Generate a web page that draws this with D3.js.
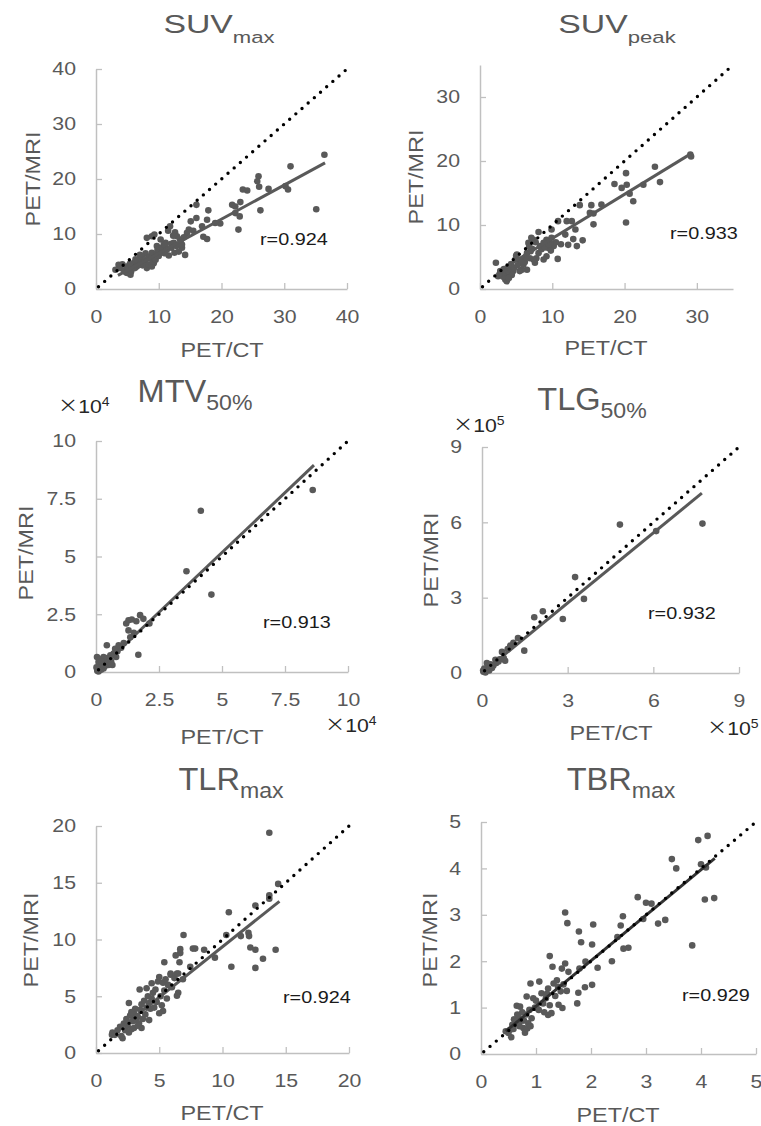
<!DOCTYPE html>
<html>
<head>
<meta charset="utf-8">
<script src="https://cdn.jsdelivr.net/npm/d3@7"></script>
<style>
body{margin:0;background:#fff;}
text{font-family:"Liberation Sans",Arial,sans-serif;}
</style>
</head>
<body>
<svg id="fig" width="761" height="1126"></svg>
<script>
// values: [PET/CT, PET/MRI]
let suvMax = [
 [36.4,24.4],[35.1,14.5],[31.0,22.3],[30.6,18.1],[30.2,18.7],[27.5,18.2],[25.9,20.5],[25.7,19.6],
 [26.0,18.6],[26.2,14.3],[23.4,18.1],[24.1,17.9],[22.7,10.8],[22.9,13.2],[22.2,15.0],[21.7,15.3],
 [23.0,15.8],[22.2,13.8],[19.8,11.9],[19.0,12.0],[17.9,14.3],[17.7,12.6],[17.7,9.1],[17.1,9.5],
 [16.9,11.4],[16.0,15.3],[16.0,12.9],[14.8,10.8],[15.1,12.3],[14.5,10.2],[13.7,7.5],[14.2,6.2],
 [13.4,9.0],[12.6,10.3],[11.8,11.4],[11.6,6.1],[12.0,7.5],[11.1,8.4],[10.3,9.0],[9.7,7.8],
 [8.9,9.6],[8.1,9.3],[7.9,6.5],[8.7,5.9],[9.2,4.7],[12.9,9.6],[13.5,8.4],[12.3,9.7],[11.5,10.6],
 [14.0,9.4],[15.5,10.6],[10.8,8.1],[10.5,7.0],[11.0,6.5],[12.5,6.6],
 [3.6,4.4],[3.9,3.8],[3.1,3.5],[4.2,4.5],[4.5,3.3],[4.8,3.0],[5.5,2.6],[5.2,3.6],[4.9,4.1],
 [5.0,2.9],[5.6,3.2],[5.8,4.0],[6.0,4.7],[6.2,3.8],[6.5,4.1],[6.7,4.9],[6.9,4.4],[7.1,5.3],
 [7.3,5.9],[7.4,4.3],[7.6,4.7],[7.8,5.1],[8.0,4.5],[8.1,3.8],[8.2,5.5],[8.4,4.4],[8.5,5.8],
 [8.9,4.1],[8.9,6.6],[9.0,5.0],[9.3,5.6],[9.5,5.3],[9.6,6.2],[9.7,6.5],[9.8,7.1],[10.0,6.0],
 [10.2,7.4],[10.5,7.5],[10.7,6.6],[11.0,7.9],[11.3,7.2],[12.0,8.2],[12.4,8.4],[12.8,7.8],
 [13.2,6.8],[13.7,8.1],[9.3,9.9],[7.0,6.2],[6.3,5.4],[5.4,4.6]
];
let suvPeak = [
 [29.1,21.0],[29.2,20.7],[24.2,19.1],[24.9,16.7],[22.6,16.3],[20.2,18.1],[20.3,16.3],[19.6,15.8],
 [18.6,16.4],[21.2,13.7],[20.7,14.9],[20.2,10.4],[16.8,13.2],[15.7,11.8],[15.2,11.9],[15.7,10.1],
 [15.4,13.1],[13.8,13.1],[13.2,9.3],[12.9,7.8],[14.2,7.6],[13.4,6.7],[12.2,6.9],[12.7,10.6],
 [12.0,10.6],[11.8,8.5],[10.8,10.6],[10.75,4.7],[9.9,9.3],[10.2,6.7],[9.5,6.4],[9.2,5.1],
 [8.8,4.6],[8.1,8.9],[7.4,7.7],[7.1,8.0],[6.7,7.2],[11.2,7.0],[10.5,7.3],
 [2.2,4.1],[3.5,1.5],[3.7,1.2],[2.5,2.0],[2.8,2.8],[5.1,5.4],[5.5,4.1],[6.5,5.6],[6.9,4.8],
 [7.6,4.1],[7.8,4.8],[6.5,3.0],[5.8,3.0],[4.6,2.8],[4.2,3.5],[4.9,4.6],[6.0,3.8],[5.5,2.8],
 [3.9,2.0],[4.4,2.2],[8.3,6.7],[9.2,7.7],[9.7,7.2],[9.9,8.0],[8.8,7.2],[7.4,4.6],[8.1,5.6],
 [3.0,2.4],[3.2,1.9],[3.4,2.6],[3.8,2.9],[4.0,1.7],[4.7,3.3],[5.2,3.7],[5.7,4.4],[6.2,4.2],
 [6.3,5.0],[7.0,5.9],[7.2,6.3],[8.5,6.2],[9.0,6.5],[9.5,7.0],[9.8,6.0],[4.3,3.9],[5.0,5.2],
 [6.8,6.6],[7.7,7.3],[2.7,2.3],[3.3,3.1]
];
let mtv = [
 [8.6,7.88],[4.16,6.98],[3.59,4.36],[4.58,3.35],[1.68,0.75],[1.75,2.46],[1.88,2.3],[2.12,2.1],
 [1.29,2.24],[1.42,2.27],[1.2,2.1],[1.29,1.8],[1.36,1.5],[0.43,1.16],[0.9,1.16],[0.76,1.0],
 [0.7,0.8],[0.5,0.3],[0.3,0.65],[0.04,0.65],[0.1,0.43],[0.57,0.72],[0.17,0.22],[0.05,0.05],
 [0.08,0.12],[0.12,0.3],[0.2,0.1],[0.25,0.35],[0.35,0.25],[0.4,0.5],[0.15,0.55],[0.6,0.45],
 [0.65,0.3],[0.3,0.15],[0.02,0.2],[0.1,0.02],[0.22,0.45],[0.45,0.6],[1.0,1.05],[1.1,1.25],
 [0.85,0.9],[1.5,1.7],[1.6,2.2],[0.55,0.55],[0.8,0.65]
];
let tlg = [
 [7.72,5.95],[4.83,5.91],[6.1,5.65],[3.26,3.82],[3.57,2.95],[2.83,2.15],[2.13,2.46],[1.83,2.22],
 [1.48,0.89],[1.26,1.39],[0.99,1.09],[0.81,0.49],[0.7,0.84],[0.47,0.53],[0.17,0.4],[0.35,0.2],
 [0.58,0.46],[0.76,0.6],[0.05,0.05],[0.1,0.08],[0.15,0.15],[0.2,0.25],[0.25,0.1],[0.3,0.35],
 [0.08,0.18],[0.4,0.3],[0.12,0.02],[0.5,0.4],[0.62,0.55],[0.22,0.3],[0.04,0.1],[0.9,0.95],[1.1,1.2]
];
let tlr = [
 [13.7,19.4],[14.4,14.9],[13.7,13.9],[13.7,13.6],[12.6,13.0],[10.5,12.4],[12.05,10.6],[12.1,10.3],
 [11.45,10.3],[10.3,10.4],[14.2,9.1],[12.2,9.3],[12.6,9.1],[13.2,8.3],[12.6,7.5],[10.7,7.6],
 [9.4,8.4],[8.55,9.1],[7.84,9.2],[7.66,9.2],[6.92,10.4],[6.66,9.15],[6.66,8.8],[6.3,8.6],
 [6.6,8.0],[5.4,8.0],[7.45,7.6],[6.87,6.5],[6.5,7.0],[5.9,7.0],[6.5,5.3],[6.4,5.05],[5.3,3.7],
 [2.1,1.3],[1.26,1.6],[3.6,2.2],
 [1.3,1.8],[1.5,1.6],[1.7,2.0],[1.9,2.3],[2.0,1.5],[2.2,2.6],[2.3,2.0],[2.4,3.0],[2.5,2.4],
 [2.6,4.4],[2.6,1.8],[2.7,3.3],[2.8,2.1],[2.9,2.8],[3.0,3.5],[3.0,2.2],[3.1,3.9],[3.2,2.9],
 [3.3,3.2],[3.4,2.6],[3.45,5.6],[3.5,3.8],[3.6,4.3],[3.7,3.0],[3.8,4.6],[3.9,3.4],[4.0,5.7],
 [4.0,4.0],[4.1,5.0],[4.2,4.4],[4.3,3.9],[4.4,6.15],[4.4,4.8],[4.5,5.3],[4.6,4.0],[4.7,5.6],
 [4.8,4.5],[4.9,6.3],[5.0,6.7],[5.0,3.5],[5.1,5.0],[5.2,4.2],[5.3,6.2],[5.4,5.5],[5.5,6.5],
 [5.6,4.8],[5.7,6.0],[5.9,6.9],[6.0,5.8],[6.2,6.6],[6.4,7.0],[3.3,2.4],[2.8,3.6],[4.2,2.9]
];
let tbr = [
 [4.12,4.7],[3.95,4.61],[3.47,4.2],[3.55,4.0],[4.0,4.09],[4.09,4.02],[4.07,3.33],[4.24,3.36],
 [3.84,2.34],[3.35,2.89],[3.22,2.81],[3.1,3.24],[3.0,3.26],[2.85,3.38],[2.95,2.91],[2.58,2.97],
 [2.54,2.77],[2.68,2.29],[2.59,2.27],[2.48,2.52],[2.38,2.0],[2.12,1.86],[2.04,2.79],[2.02,2.36],
 [1.9,1.99],[2.02,1.49],[1.89,1.44],[1.82,2.41],[1.78,2.64],[1.53,3.05],[1.57,2.82],[1.77,1.32],
 [1.75,1.09],[1.79,1.84],[1.53,1.95],[1.59,1.77],[1.47,1.84],[1.25,2.11],[1.3,1.88],[1.06,1.56],
 [0.9,1.52],[0.83,1.24],[0.65,1.04],[0.71,1.02],[1.56,1.36],[1.48,0.99],[1.41,1.06],[1.22,0.84],
 [1.28,0.88],[1.13,1.09],[1.01,0.99],[0.95,1.2],[1.32,1.52],[1.38,1.59],[1.22,1.41],[1.1,1.31],
 [0.45,0.49],[0.55,0.36],[0.53,0.52],[0.62,0.66],[0.68,0.81],[0.77,0.56],[0.8,0.46],[0.86,0.66],
 [0.92,0.77],[0.59,0.54],[0.71,0.7],[0.6,0.75],[0.75,0.9],[0.82,0.85],[0.88,0.95],[0.98,1.0],
 [0.7,0.6],[0.78,0.72],[0.84,0.55],[0.9,0.6],[0.66,0.85],[0.57,0.63],[0.5,0.45],[1.05,0.95],
 [1.15,0.9],[1.18,1.2],[1.25,1.05],[1.35,1.25],[1.45,1.35],[1.5,1.5],[1.4,1.45],[1.2,1.3],[1.0,1.15]
];

// regression lines: [slope, intercept, x from, x to]
let suvMaxFit = [0.62, 0.3, 3.5, 36.5];
let suvPeakFit = [0.69, 1.0, 2.5, 29.2];
let mtvFit = [1.035, 0, 0.2, 8.65];
let tlgFit = [0.93, 0, 0.1, 7.7];
let tlrFit = [0.89, 0.46, 1.5, 14.5];
let tbrFit = [0.98, 0.05, 0.45, 4.25];

let rValues = ["0.924", "0.933", "0.913", "0.932", "0.924", "0.929"];

let gray = "#595959";
let axisGray = "#c0c0c0";

let panels = [
 {title:"SUV", sub:"max", pts:suvMax, max:40, ticks:[0,10,20,30,40], fit:suvMaxFit, fitColor:gray,
  box:[96,347,289,69], tpos:[219,33], ts:[26,17,10,1.3], ylab:[40,179], xlab:[222,357], rpos:[260,245]},
 {title:"SUV", sub:"peak", pts:suvPeak, max:35, ticks:[0,10,20,30], fit:suvPeakFit, fitColor:gray,
  box:[480,733,289,65], tpos:[617,33], ts:[26,17,10,1.3], ylab:[423,177], xlab:[606,355], rpos:[670,239]},
 {title:"MTV", sub:"50%", pts:mtv, max:10, ticks:[0,2.5,5,7.5,10], fit:mtvFit, fitColor:gray,
  box:[96,348,672,441], tpos:[195,402], ts:[31,22,8,1.05], ylab:[33,553], xlab:[222,744], rpos:[263,628],
  exp:"4", expPos:[[58,413],[325,732]]},
 {title:"TLG", sub:"50%", pts:tlg, max:9, ticks:[0,3,6,9], fit:tlgFit, fitColor:gray,
  box:[482,739,673,447], tpos:[592,410], ts:[31,22,8,1.05], ylab:[438,560], xlab:[611,740], rpos:[648,619],
  exp:"5", expPos:[[453,432],[707,735]]},
 {title:"TLR", sub:"max", pts:tlr, max:20, ticks:[0,5,10,15,20], fit:tlrFit, fitColor:gray,
  box:[96,349,1053,826], tpos:[231,790], ts:[31,22,8,1.05], ylab:[38,940], xlab:[222,1120], rpos:[283,1003]},
 {title:"TBR", sub:"max", pts:tbr, max:5, ticks:[0,1,2,3,4,5], fit:tbrFit, fitColor:"#333333",
  box:[481,756,1054,822], tpos:[621,790], ts:[31,22,8,1.05], ylab:[437,940], xlab:[618,1122], rpos:[682,1001]}
];

let svg = d3.select("#fig");

panels.forEach((p,i)=>{
  let g = svg.append("g");
  let x = d3.scaleLinear().domain([0,p.max]).range([p.box[0],p.box[1]]);
  let y = d3.scaleLinear().domain([0,p.max]).range([p.box[2],p.box[3]]);

  let xa = g.append("g")
    .attr("transform",`translate(0,${p.box[2]})`)
    .call(d3.axisBottom(x).tickValues(p.ticks).tickSize(-6).tickSizeOuter(0).tickPadding(21).tickFormat(d=>d));
  let ya = g.append("g")
    .attr("transform",`translate(${p.box[0]},0)`)
    .call(d3.axisLeft(y).tickValues(p.ticks).tickSize(-6).tickSizeOuter(0).tickPadding(17.4).tickFormat(d=>d));

  [xa,ya].forEach(a=>{
    a.attr("font-size",null).attr("font-family",null);
    a.select(".domain").attr("stroke",axisGray).attr("stroke-width",1.5);
    a.selectAll(".tick line").attr("stroke",axisGray).attr("stroke-width",1.3);
    a.selectAll(".tick text")
      .attr("fill",gray)
      .attr("font-size",18.5)
      .attr("transform","scale(1.15,1)");
  });

  // points
  g.append("g").selectAll("circle")
    .data(p.pts)
    .join("circle")
    .attr("cx",d=>x(d[0]))
    .attr("cy",d=>y(d[1]))
    .attr("r",3.3)
    .attr("fill",gray);

  // regression line
  let f = p.fit;
  g.append("line")
    .attr("x1",x(f[2])).attr("y1",y(f[0]*f[2]+f[1]))
    .attr("x2",x(f[3])).attr("y2",y(f[0]*f[3]+f[1]))
    .attr("stroke",p.fitColor)
    .attr("stroke-width",3);

  // line of identity
  g.append("line")
    .attr("x1",x(p.max*0.01)).attr("y1",y(p.max*0.01))
    .attr("x2",x(p.max)).attr("y2",y(p.max))
    .attr("stroke","#000")
    .attr("stroke-width",3.4)
    .attr("stroke-linecap","round")
    .attr("stroke-dasharray","0,8.2");

  // title with subscript
  let t = g.append("text")
    .attr("transform",`translate(${p.tpos[0]},${p.tpos[1]}) scale(${p.ts[3]},1)`)
    .attr("text-anchor","middle")
    .attr("fill",gray);
  t.append("tspan").attr("font-size",p.ts[0]).text(p.title);
  t.append("tspan").attr("font-size",p.ts[1]).attr("dy",p.ts[2]).text(p.sub);

  g.append("text")
    .attr("transform",`translate(${p.ylab[0]},${p.ylab[1]}) rotate(-90) scale(1.2,1)`)
    .attr("text-anchor","middle")
    .attr("font-size",19.5)
    .attr("fill",gray)
    .text("PET/MRI");

  g.append("text")
    .attr("transform",`translate(${p.xlab[0]},${p.xlab[1]}) scale(1.2,1)`)
    .attr("text-anchor","middle")
    .attr("font-size",19.5)
    .attr("fill",gray)
    .text("PET/CT");

  g.append("text")
    .attr("transform",`translate(${p.rpos[0]},${p.rpos[1]}) scale(1.2,1)`)
    .attr("font-size",16.5)
    .attr("fill","#1a1a1a")
    .text("r=" + rValues[i]);

  if(p.exp){
    p.expPos.forEach(e=>{
      let m = g.append("text")
        .attr("transform",`translate(${e[0]},${e[1]}) scale(1.12,1)`)
        .attr("font-size",19)
        .attr("fill","#262626");
      m.append("tspan")
        .attr("font-family","'Noto Sans CJK JP'")
        .attr("font-size",18)
        .attr("dy",-1)
        .text("×");
      m.append("tspan").attr("dy",1).text("10");
      m.append("tspan").attr("font-size",12.5).attr("dy",-7).text(p.exp);
    });
  }
});
</script>
</body>
</html>
